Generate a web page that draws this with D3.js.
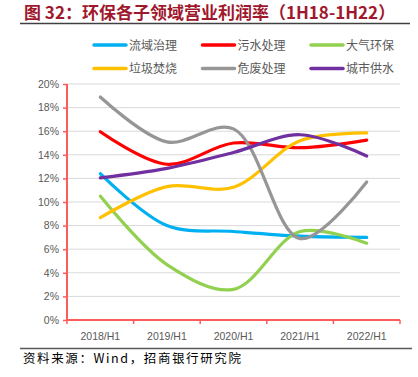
<!DOCTYPE html>
<html><head><meta charset="utf-8">
<script src="https://cdn.jsdelivr.net/npm/d3@7"></script>
<style>body{margin:0;background:#fff}svg{display:block}</style>
</head><body>
<svg id="c" width="418" height="377"></svg>
<script>
const categories = ["2018/H1","2019/H1","2020/H1","2021/H1","2022/H1"];
const seriesNames = ["流域治理","污水处理","大气环保","垃圾焚烧","危废处理","城市供水"];
const seriesColors = ["#00B0F0","#FF0000","#92D050","#FFC000","#969696","#7030A0"];
const v流域治理 = [12.4, 8.0, 7.5, 7.1, 7.0];
const v污水处理 = [15.95, 13.2, 15.0, 14.6, 15.25];
const v大气环保 = [10.5, 4.7, 2.6, 7.5, 6.5];
const v垃圾焚烧 = [8.67, 11.3, 11.25, 15.2, 15.85];
const v危废处理 = [18.9, 15.1, 16.2, 6.9, 11.7];
const v城市供水 = [12.05, 12.85, 14.2, 15.7, 13.9];
const yTicks = [0,2,4,6,8,10,12,14,16,18,20];
const values = [v流域治理, v污水处理, v大气环保, v垃圾焚烧, v危废处理, v城市供水];

const svg = d3.select("#c");

// title
svg.append("text").attr("x",24).attr("y",19)
  .attr("font-family","'Noto Sans CJK SC',sans-serif").attr("font-weight","bold")
  .attr("font-size",17).attr("fill","#A0182D")
  .text("图 32：环保各子领域营业利润率（1H18-1H22）");
svg.append("line").attr("x1",20).attr("x2",410).attr("y1",23.5).attr("y2",23.5)
  .attr("stroke","#404040").attr("stroke-width",1.5);

const x = d3.scaleBand().domain(categories).range([67,400]);
const y = d3.scaleLinear().domain([0,20]).range([320,84]);

// grid
svg.append("g").selectAll("line").data(yTicks.filter(d=>d>0)).join("line")
  .attr("x1",67).attr("x2",400).attr("y1",d=>y(d)).attr("y2",d=>y(d))
  .attr("stroke","#D9D9D9").attr("stroke-width",1);

// axes
const yAxis = svg.append("g").attr("transform","translate(67,0)")
  .call(d3.axisLeft(y).tickValues(yTicks).tickFormat(d=>d+"%").tickSize(4).tickPadding(4));
const xAxis = svg.append("g").attr("transform","translate(0,320)")
  .call(d3.axisBottom(x).tickSize(4).tickPadding(9));
xAxis.selectAll(".tick line").remove();
xAxis.selectAll("line.edge").data(d3.range(categories.length+1)).join("line")
  .attr("class","edge")
  .attr("x1",i=>67+i*x.step()).attr("x2",i=>67+i*x.step())
  .attr("y1",0).attr("y2",4).attr("stroke","#FF5B5B").attr("stroke-width",1.5);
[yAxis,xAxis].forEach(a=>{
  a.select(".domain").attr("stroke","#FF5B5B").attr("stroke-width",2);
  a.selectAll(".tick line").attr("stroke","#FF5B5B").attr("stroke-width",1.5);
  a.selectAll("text").attr("fill","#595959").attr("font-size",10.5)
    .attr("font-family","'Liberation Sans',Arial,sans-serif");
});
yAxis.select(".domain").attr("d","M0,320V84");
xAxis.select(".domain").attr("d","M67,0H400");

// lines
const line = d3.line().x((d,i)=>x(categories[i])+x.bandwidth()/2).y(d=>y(d))
  .curve(d3.curveCatmullRom.alpha(0.5));
values.forEach((vals,k)=>{
  svg.append("path").datum(vals).attr("d",line)
    .attr("fill","none").attr("stroke",seriesColors[k]).attr("stroke-width",3.2)
    .attr("stroke-linecap","round").attr("stroke-linejoin","round");
});

// legend
const lg = svg.append("g");
seriesNames.forEach((n,k)=>{
  const col = k%3, row = Math.floor(k/3);
  const lx = 94 + col*108.5, ly = 45 + row*23.5;
  lg.append("line").attr("x1",lx).attr("x2",lx+32).attr("y1",ly).attr("y2",ly)
    .attr("stroke",seriesColors[k]).attr("stroke-width",3.5).attr("stroke-linecap","round");
  lg.append("text").attr("x",lx+35).attr("y",ly+4.5).attr("font-size",12)
    .attr("font-family","'Noto Sans CJK SC',sans-serif").attr("fill","#595959").text(n);
});

// source
svg.append("line").attr("x1",20).attr("x2",412).attr("y1",348.5).attr("y2",348.5)
  .attr("stroke","#595959").attr("stroke-width",1.5);
svg.append("text").attr("x",23).attr("y",363).attr("font-size",12.5)
  .attr("letter-spacing",1.6)
  .attr("font-family","'Noto Sans CJK SC','DejaVu Sans Mono',monospace").attr("fill","#000")
  .text("资料来源：Wind，招商银行研究院");
</script>
</body></html>
